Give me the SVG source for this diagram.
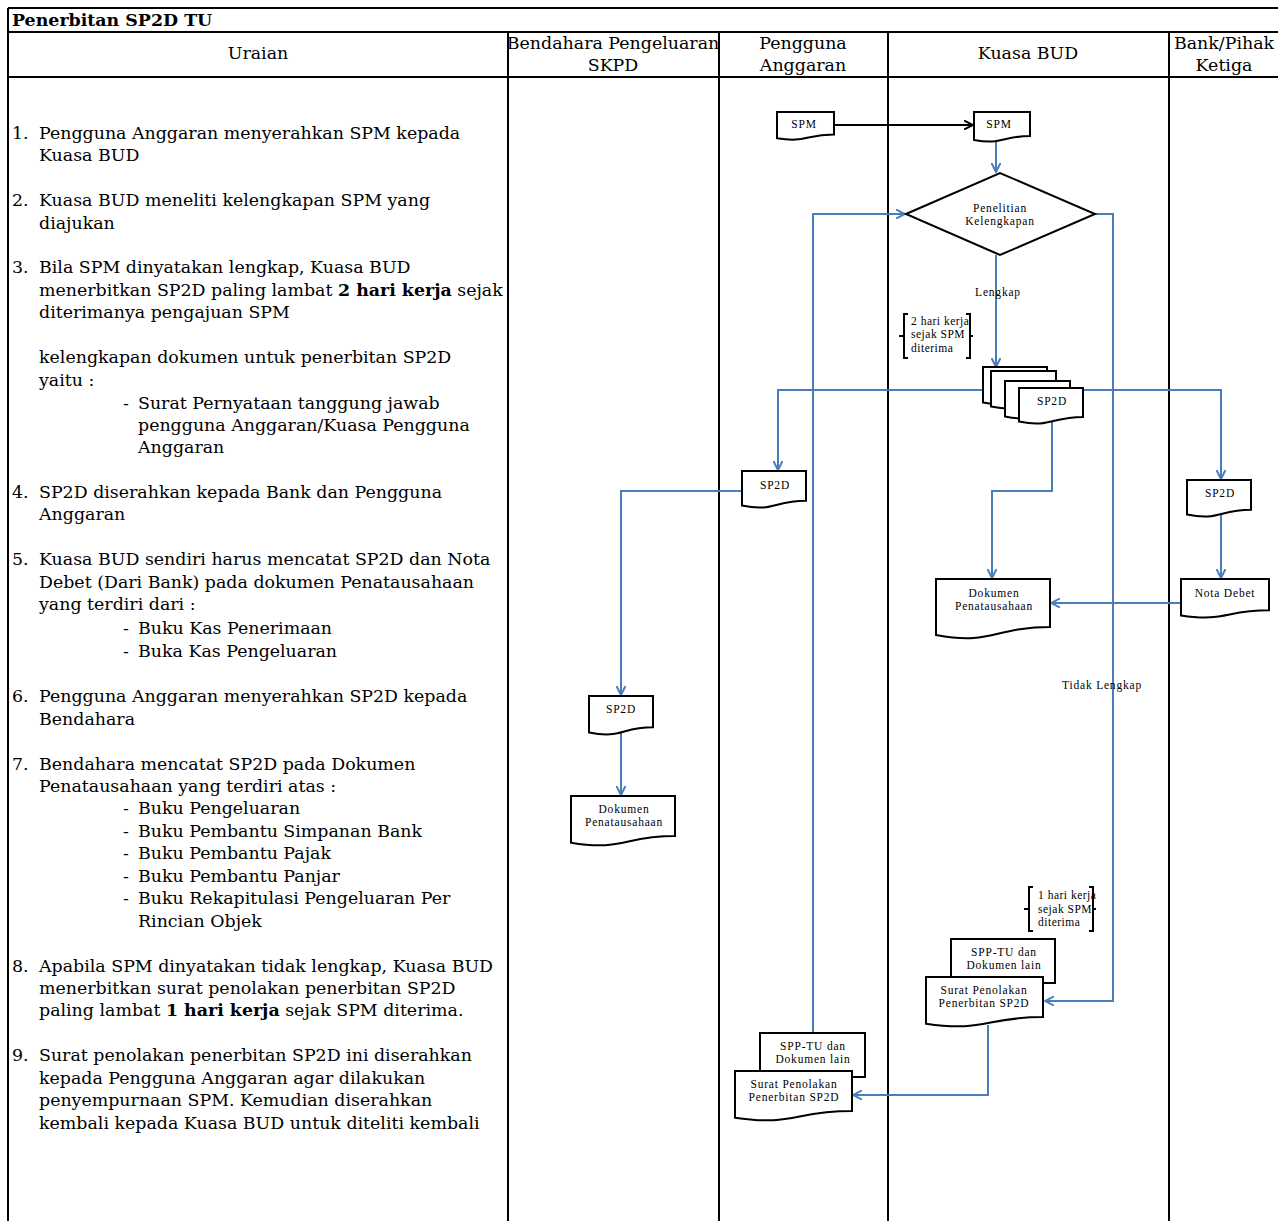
<svg xmlns="http://www.w3.org/2000/svg" width="1278" height="1221" viewBox="0 0 1278 1221">
<style>
.tl{stroke:#000;stroke-width:2;fill:none}
.hd{font-family:"DejaVu Serif",serif;font-size:17.4px;text-anchor:middle;fill:#000}
.lt{font-family:"DejaVu Serif",serif;font-size:17.4px;fill:#000}
.b{font-weight:bold}
.sh{fill:#fff;stroke:#000;stroke-width:2}
.ft{font-family:"Liberation Serif","Times New Roman",serif;font-size:11.5px;letter-spacing:0.8px;text-anchor:middle;fill:#000}
.fl{font-family:"Liberation Serif","Times New Roman",serif;font-size:11.5px;letter-spacing:0.5px;fill:#000}
.cb{stroke:#4a7ebb;stroke-width:2;fill:none;marker-end:url(#ab)}
.ck{stroke:#000;stroke-width:2;fill:none;marker-end:url(#ak)}
.br{stroke:#000;stroke-width:2;fill:none}
</style>
<defs>
<marker id="ab" viewBox="0 0 10 10" refX="9" refY="5" markerWidth="10" markerHeight="10" markerUnits="userSpaceOnUse" orient="auto"><path d="M0,0.5 L9,5 L0,9.5" fill="none" stroke="#4a7ebb" stroke-width="2"/></marker>
<marker id="ak" viewBox="0 0 10 10" refX="9" refY="5" markerWidth="10" markerHeight="10" markerUnits="userSpaceOnUse" orient="auto"><path d="M0,0.5 L9,5 L0,9.5" fill="none" stroke="#000" stroke-width="2"/></marker>
<clipPath id="c1"><rect x="509" y="33" width="209" height="43"/></clipPath>
<clipPath id="c2"><rect x="1170" y="33" width="108" height="43"/></clipPath>
</defs>
<rect width="1278" height="1221" fill="#fff"/>
<g id="table">
<path class="tl" d="M8,8H1278M8,32H1278M8,77H1278M8,8V1221M508,32V1221M719,32V1221M888,32V1221M1169,32V1221"/>
<text x="12" y="26" class="lt b">Penerbitan SP2D TU</text>
<text x="258" y="59" class="hd">Uraian</text>
<g clip-path="url(#c1)"><text x="613" y="49" class="hd">Bendahara Pengeluaran</text><text x="613" y="71" class="hd">SKPD</text></g>
<text x="803" y="49" class="hd">Pengguna</text><text x="803" y="71" class="hd">Anggaran</text>
<text x="1028" y="59" class="hd">Kuasa BUD</text>
<g clip-path="url(#c2)"><text x="1224" y="49" class="hd">Bank/Pihak</text><text x="1224" y="71" class="hd">Ketiga</text></g>
</g>
<g id="uraian" class="lt">
<text x="12" y="139">1.</text><text x="39" y="139">Pengguna Anggaran menyerahkan SPM kepada</text><text x="39" y="161">Kuasa BUD</text>
<text x="12" y="206">2.</text><text x="39" y="206">Kuasa BUD meneliti kelengkapan SPM yang</text><text x="39" y="229">diajukan</text>
<text x="12" y="273">3.</text><text x="39" y="273">Bila SPM dinyatakan lengkap, Kuasa BUD</text><text x="39" y="296">menerbitkan SP2D paling lambat <tspan class="b">2 hari kerja</tspan> sejak</text><text x="39" y="318">diterimanya pengajuan SPM</text>
<text x="39" y="363">kelengkapan dokumen untuk penerbitan SP2D</text><text x="39" y="386">yaitu :</text>
<text x="123" y="409">-</text><text x="138" y="409">Surat Pernyataan tanggung jawab</text><text x="138" y="431">pengguna Anggaran/Kuasa Pengguna</text><text x="138" y="453">Anggaran</text>
<text x="12" y="498">4.</text><text x="39" y="498">SP2D diserahkan kepada Bank dan Pengguna</text><text x="39" y="520">Anggaran</text>
<text x="12" y="565">5.</text><text x="39" y="565">Kuasa BUD sendiri harus mencatat SP2D dan Nota</text><text x="39" y="588">Debet (Dari Bank) pada dokumen Penatausahaan</text><text x="39" y="610">yang terdiri dari :</text>
<text x="123" y="634">-</text><text x="138" y="634">Buku Kas Penerimaan</text>
<text x="123" y="657">-</text><text x="138" y="657">Buka Kas Pengeluaran</text>
<text x="12" y="702">6.</text><text x="39" y="702">Pengguna Anggaran menyerahkan SP2D kepada</text><text x="39" y="725">Bendahara</text>
<text x="12" y="770">7.</text><text x="39" y="770">Bendahara mencatat SP2D pada Dokumen</text><text x="39" y="792">Penatausahaan yang terdiri atas :</text>
<text x="123" y="814">-</text><text x="138" y="814">Buku Pengeluaran</text>
<text x="123" y="837">-</text><text x="138" y="837">Buku Pembantu Simpanan Bank</text>
<text x="123" y="859">-</text><text x="138" y="859">Buku Pembantu Pajak</text>
<text x="123" y="882">-</text><text x="138" y="882">Buku Pembantu Panjar</text>
<text x="123" y="904">-</text><text x="138" y="904">Buku Rekapitulasi Pengeluaran Per</text><text x="138" y="927">Rincian Objek</text>
<text x="12" y="972">8.</text><text x="39" y="972">Apabila SPM dinyatakan tidak lengkap, Kuasa BUD</text><text x="39" y="994">menerbitkan surat penolakan penerbitan SP2D</text><text x="39" y="1016">paling lambat <tspan class="b">1 hari kerja</tspan> sejak SPM diterima.</text>
<text x="12" y="1061">9.</text><text x="39" y="1061">Surat penolakan penerbitan SP2D ini diserahkan</text><text x="39" y="1084">kepada Pengguna Anggaran agar dilakukan</text><text x="39" y="1106">penyempurnaan SPM. Kemudian diserahkan</text><text x="39" y="1129">kembali kepada Kuasa BUD untuk diteliti kembali</text>
</g>
<g id="connectors">
<path class="ck" d="M834,125H973"/>
<path class="cb" d="M996,141V172"/>
<path class="cb" d="M813,1033V214H905"/>
<path class="cb" d="M1095,214H1113V1001H1045"/>
<path class="cb" d="M996,255V367"/>
<path class="cb" d="M990,390H778V470"/>
<path class="cb" d="M1080,390H1221V479"/>
<path class="cb" d="M1052,420V491H992V578"/>
<path class="cb" d="M1221,514V578"/>
<path class="cb" d="M1181,603H1051"/>
<path class="cb" d="M742,491H621V695"/>
<path class="cb" d="M621,732V795"/>
<path class="cb" d="M988,1025V1095H853"/>
<text x="998" y="296" class="ft">Lengkap</text>
<text x="1102" y="689" class="ft">Tidak Lengkap</text>
</g>
<g id="spm-pa"><path class="sh" d="M777,112H834V134.5C805.5,134.5 805.5,143 777,138.2Z"/><text x="804" y="128" class="ft">SPM</text></g>
<g id="spm-bud"><path class="sh" d="M974,112H1030V136.1C1002,136.1 1002,145.2 974,140Z"/><text x="999" y="128" class="ft">SPM</text></g>
<g id="penelitian"><path class="sh" d="M906,214L1000,173L1095,214L1000,255Z"/><text x="1000" y="212" class="ft">Penelitian</text><text x="1000" y="225" class="ft">Kelengkapan</text></g>
<g id="brace-2hari"><path class="br" d="M908,314H904V358H908M904,336H899M966,314H970V358H966M970,336H973"/><text x="911" y="325" class="fl">2 hari kerja</text><text x="911" y="338" class="fl">sejak SPM</text><text x="911" y="352" class="fl">diterima</text></g>
<g id="sp2d-stack">
<path class="sh" d="M983,367H1047V397.5C1015,397.5 1015,409.1 983,402.5Z"/>
<path class="sh" d="M991,371H1056V401.5C1023.5,401.5 1023.5,413.1 991,406.5Z"/>
<path class="sh" d="M1005,381H1070V411.5C1037.5,411.5 1037.5,423.1 1005,416.5Z"/>
<path class="sh" d="M1019,388H1083V416.9C1051,416.9 1051,427.9 1019,421.6Z"/>
<text x="1052" y="405" class="ft">SP2D</text>
</g>
<g id="sp2d-pa"><path class="sh" d="M742,471H806V500.7C774,500.7 774,512 742,505.6Z"/><text x="775" y="489" class="ft">SP2D</text></g>
<g id="sp2d-bank"><path class="sh" d="M1187,480H1251V509.7C1219,509.7 1219,521 1187,514.6Z"/><text x="1220" y="497" class="ft">SP2D</text></g>
<g id="dok-bud"><path class="sh" d="M936,579H1050V627.1C993,627.1 993,645.4 936,635Z"/><text x="994" y="597" class="ft">Dokumen</text><text x="994" y="610" class="ft">Penatausahaan</text></g>
<g id="nota-debet"><path class="sh" d="M1181,579H1269V610.3C1225,610.3 1225,622.2 1181,615.4Z"/><text x="1225" y="597" class="ft">Nota Debet</text></g>
<g id="sp2d-bend"><path class="sh" d="M589,696H653V727.3C621,727.3 621,739.2 589,732.4Z"/><text x="621" y="713" class="ft">SP2D</text></g>
<g id="dok-bend"><path class="sh" d="M571,796H675V836.1C623,836.1 623,851.4 571,842.7Z"/><text x="624" y="813" class="ft">Dokumen</text><text x="624" y="826" class="ft">Penatausahaan</text></g>
<g id="brace-1hari"><path class="br" d="M1033,887H1029V931H1033M1029,909H1024M1089,887H1093V931H1089M1093,909H1096"/><text x="1038" y="899" class="fl">1 hari kerja</text><text x="1038" y="913" class="fl">sejak SPM</text><text x="1038" y="926" class="fl">diterima</text></g>
<g id="spptu-bud"><rect class="sh" x="951" y="939" width="104" height="44"/><text x="1004" y="956" class="ft">SPP-TU dan</text><text x="1004" y="969" class="ft">Dokumen lain</text></g>
<g id="penolakan-bud"><path class="sh" d="M926,977H1043V1017.1C984.5,1017.1 984.5,1032.4 926,1023.7Z"/><text x="984" y="994" class="ft">Surat Penolakan</text><text x="984" y="1007" class="ft">Penerbitan SP2D</text></g>
<g id="spptu-pa"><rect class="sh" x="760" y="1033" width="105" height="44"/><text x="813" y="1050" class="ft">SPP-TU dan</text><text x="813" y="1063" class="ft">Dokumen lain</text></g>
<g id="penolakan-pa"><path class="sh" d="M735,1071H852V1111.1C793.5,1111.1 793.5,1126.4 735,1117.7Z"/><text x="794" y="1088" class="ft">Surat Penolakan</text><text x="794" y="1101" class="ft">Penerbitan SP2D</text></g>
</svg>
